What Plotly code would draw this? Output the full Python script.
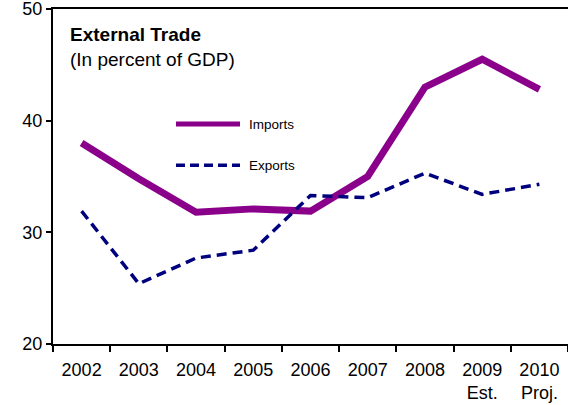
import plotly.graph_objects as go

years = ["2002", "2003", "2004", "2005", "2006", "2007", "2008", "2009<br>Est.", "2010<br>Proj."]
imports = [38.0, 34.8, 31.8, 32.1, 31.9, 35.0, 43.0, 45.5, 42.8]
exports = [31.9, 25.4, 27.7, 28.4, 33.3, 33.1, 35.3, 33.4, 34.3]
y_ticks = [20, 30, 40, 50]

IMP_COLOR = "#8B008B"
EXP_COLOR = "#00007F"
FONT = "Liberation Sans, Arial, sans-serif"

fig = go.Figure()
fig.add_trace(go.Scatter(x=years, y=imports, mode="lines", name="Imports",
                         line=dict(color=IMP_COLOR, width=7)))
fig.add_trace(go.Scatter(x=years, y=exports, mode="lines", name="Exports",
                         line=dict(color=EXP_COLOR, width=3.5, dash="10px,6px")))

# hand-drawn legend keys
for y_key, color, width, dash, label in [
    (39.7, IMP_COLOR, 5, "solid", "Imports"),
    (36.0, EXP_COLOR, 3.5, "9px,5px", "Exports"),
]:
    fig.add_shape(type="line", xref="paper", yref="y", x0=0.2388, x1=0.3631,
                  y0=y_key, y1=y_key, line=dict(color=color, width=width, dash=dash))
    fig.add_annotation(xref="paper", yref="y", x=0.3767, y=y_key, text=label,
                       showarrow=False, xanchor="left", yanchor="middle",
                       font=dict(family=FONT, size=13.5, color="black"))

fig.add_annotation(xref="paper", yref="paper", x=0.029, y=0.962,
                   text="<b>External Trade</b><br>(In percent of GDP)",
                   showarrow=False, xanchor="left", yanchor="top", align="left",
                   font=dict(family=FONT, size=19, color="black"))

fig.update_layout(
    width=568, height=405,
    margin=dict(l=53, r=0, t=9, b=61, autoexpand=False),
    paper_bgcolor="white", plot_bgcolor="white",
    showlegend=False,
    font=dict(family=FONT, size=18, color="black"),
)
fig.update_xaxes(type="category", range=[-0.5, len(years) - 0.5],
                 tickson="boundaries", ticks="outside",
                 ticklen=6, tickwidth=2, tickcolor="black",
                 ticklabelstandoff=8, automargin=False,
                 showline=True, linecolor="black", linewidth=2, mirror=True,
                 showgrid=False, zeroline=False,
                 tickfont=dict(family=FONT, size=18))
fig.update_yaxes(range=[20, 50], tickvals=y_ticks, ticks="outside", ticklen=5,
                 tickwidth=2, tickcolor="black", automargin=False,
                 ticklabeloverflow="allow",
                 showline=True, linecolor="black", linewidth=2,
                 showgrid=False, zeroline=False,
                 tickfont=dict(family=FONT, size=18))

fig.write_html("out.html")
